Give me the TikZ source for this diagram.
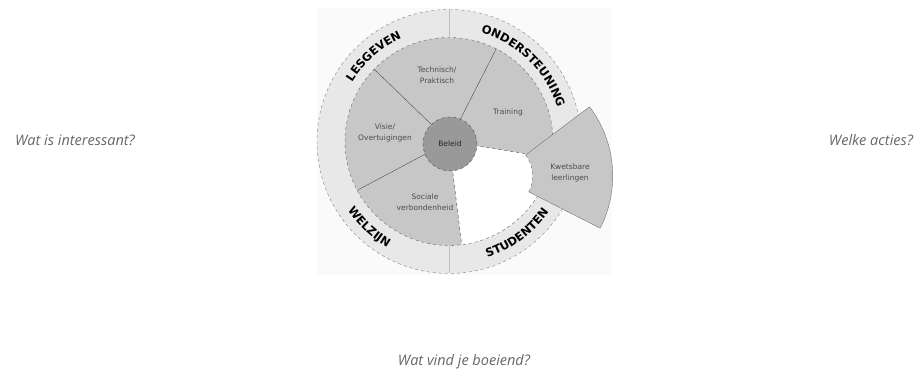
\documentclass[tikz,border=0pt]{standalone}
\usepackage{fontspec}
\setmainfont{DejaVu Sans}
\newfontfamily\askfont{Open Sans}
\usetikzlibrary{decorations.text}

\tikzset{
  sector/.style={fill=black!22},
  ringlabel/.style={decorate, decoration={text along path, text align=center,
      text={|\bfseries\fontsize{11.5}{13}\selectfont|#1}}},
  partlabel/.style={align=center, font=\fontsize{7.5}{10.5}\selectfont, text=black!70},
  question/.style={font=\askfont\itshape\fontsize{14.5}{17}\selectfont, text=black!60},
}

\begin{document}
\begin{tikzpicture}[x=1pt,y=1pt]
  \useasboundingbox (0,0) rectangle (921,374);
  % light backdrop behind the wheel
  \fill[black!2] (317,99) rectangle (612,366);

  \begin{scope}[shift={(449,232.5)}]
    % outer ring
    \fill[black!9] (0,0) circle (132);
    \draw[black!50, dashed] (0,0) circle (132);
    \fill[white] (0,0) circle (104);
    \draw[black!25] (90:104) -- (90:132);
    \draw[black!25] (270:104) -- (270:132);

    % the four gray parts
    \fill[sector] (0,0) -- (351:104) arc[start angle=351, end angle=637, radius=104] -- cycle;
    \draw[black!60, dashed] (0,0) circle (104);
    \foreach \a in {63,136,208}
      \draw[black!70] (\a:20) -- (\a:104);
    \foreach \a in {277,351}
      \draw[black!70, dashed] (\a:20) -- (\a:104);

    % centre
    \node[circle, minimum size=54, fill=black!40, draw=black!70, dashed,
          partlabel, text=black!85] (beleid) at (1,-2.5) {Beleid};

    % pulled-out part
    \coordinate (kw) at (48.7,-34.5);
    \fill[black!22] ([shift={(-27:35)}]kw) -- ([shift={(-27:115)}]kw)
      arc[start angle=-27, end angle=37, radius=115] -- ([shift={(37:35)}]kw)
      arc[start angle=37, end angle=-27, radius=35] -- cycle;
    \draw[black!55] ([shift={(37:35)}]kw) -- ([shift={(37:115)}]kw)
      arc[start angle=37, end angle=-27, radius=115] -- ([shift={(-27:35)}]kw);
    \draw[black!55, dashed] ([shift={(37:35)}]kw) arc[start angle=37, end angle=-27, radius=35];

    % labels of the parts
    \node[partlabel] (technisch) at (-12,66.5) {Technisch/\\Praktisch};
    \node[partlabel] (training) at (59,29.5) {Training};
    \node[partlabel] (visie) at (-64,8.5) {Visie/\\Overtuigingen};
    \node[partlabel] (sociale) at (-24,-60.5) {Sociale\\verbondenheid};
    \node[partlabel] (kwetsbare) at (121,-31.5) {Kwetsbare\\leerlingen};

    % ring labels
    \path[ringlabel=LESGEVEN] (181.5:113.5) arc[start angle=181.5, end angle=81.5, radius=113.5];
    \path[ringlabel=ONDERSTEUNING] (95.5:113.5) arc[start angle=95.5, end angle=-4.5, radius=113.5];
    \path[ringlabel=WELZIJN] (177:122.5) arc[start angle=177, end angle=277, radius=122.5];
    \path[ringlabel=STUDENTEN] (256.5:122.5) arc[start angle=256.5, end angle=356.5, radius=122.5];
  \end{scope}

  % questions round the wheel
  \node[question] (interessant) at (75,234) {Wat is interessant?};
  \node[question] (acties) at (871,234) {Welke acties?};
  \node[question] (boeiend) at (464,12) {Wat vind je boeiend?};
\end{tikzpicture}
\end{document}
